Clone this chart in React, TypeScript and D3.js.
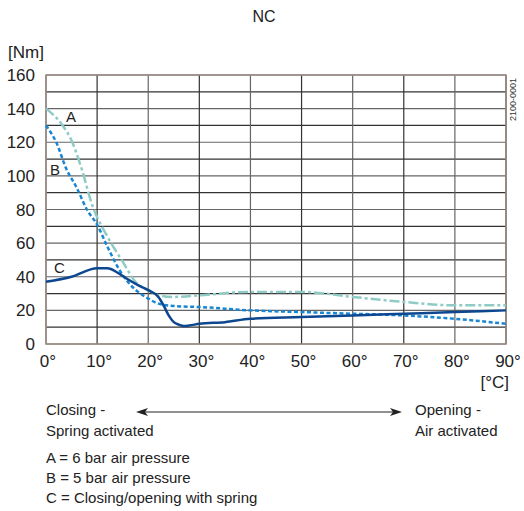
import * as d3 from 'd3';

// x-axis: temperature [°C], y-axis: torque [Nm]
const xTicks = [0, 10, 20, 30, 40, 50, 60, 70, 80, 90];
const yTicks = [0, 20, 40, 60, 80, 100, 120, 140, 160];
const yGrid = d3.range(0, 161, 10);

// A = 6 bar air pressure
const tempA = [0, 3, 5, 7, 9, 12, 15, 17.5, 20, 22, 25, 30, 40, 50, 60, 70, 80, 90];
const torqueA = [140, 131, 121, 104, 83, 64, 49, 37, 32, 29, 28, 29, 31, 31, 28, 25, 23, 23];

// B = 5 bar air pressure
const tempB = [0, 2, 4, 6, 8, 10, 12, 14, 16, 18, 20, 22, 25, 30, 40, 50, 60, 70, 80, 90];
const torqueB = [130, 120, 104, 93, 80, 71, 58, 46, 37, 31, 27, 24, 22.6, 22, 20, 19, 18, 17, 15, 12];

// C = closing/opening with spring
const tempC = [0, 5, 10, 12, 14, 16, 18, 20, 22, 23, 24, 25, 26, 27, 28, 30, 35, 40, 50, 60, 70, 80, 90];
const torqueC = [37, 40, 45, 45, 42.5, 38.5, 35, 32, 28, 23, 17, 13, 11.5, 10.7, 11, 12, 13, 15, 16, 17, 18, 19, 20];

const legendLines = ['A = 6 bar air pressure', 'B = 5 bar air pressure', 'C = Closing/opening with spring'];

const W = 524;
const H = 511;
const margin = { left: 46, right: 18, top: 75, bottom: 167 };
const font = 'Liberation Sans, Arial, sans-serif';

export default function App() {
  const x = d3.scaleLinear().domain([0, 90]).range([margin.left, W - margin.right]);
  const y = d3.scaleLinear().domain([0, 160]).range([H - margin.bottom, margin.top]);

  const mk = (ts: number[], vs: number[]) =>
    d3.line<number>()
      .x((_, i) => x(ts[i]))
      .y((v) => y(v))
      .curve(d3.curveMonotoneX)(vs) ?? '';

  const arrowY = 412;
  const ax0 = 136;
  const ax1 = 402;

  return (
    <svg width={W} height={H} style={{ position: 'absolute', left: 0, top: 0, background: '#fff' }} fontFamily={font}>
      <text x={264} y={22} textAnchor="middle" fontSize={16} fill="#222">NC</text>
      <text x={8} y={58} fontSize={17} fill="#222">[Nm]</text>

      {/* grid */}
      {yGrid.map((v) => (
        <line key={'h' + v} x1={x(0)} x2={x(90)} y1={y(v)} y2={y(v)} stroke={v % 20 === 0 ? '#666' : '#333'} strokeWidth={1.2} />
      ))}
      {xTicks.map((t) => (
        <line key={'v' + t} x1={x(t)} x2={x(t)} y1={y(0)} y2={y(160)} stroke={t % 20 === 0 ? '#666' : '#333'} strokeWidth={1.2} />
      ))}
      <rect x={x(0)} y={y(160)} width={x(90) - x(0)} height={y(0) - y(160)} fill="none" stroke="#9c8c86" strokeWidth={1.5} />

      {/* y ticks */}
      {yTicks.map((v) => (
        <text key={'yt' + v} x={35} y={y(v) + 6} textAnchor="end" fontSize={17} fill="#222">{v}</text>
      ))}
      {/* x ticks */}
      {xTicks.map((t) => (
        <text key={'xt' + t} x={x(t) + 2} y={367} textAnchor="middle" fontSize={17} fill="#222">{t}°</text>
      ))}
      <text x={509} y={388} textAnchor="end" fontSize={17} fill="#222">[°C]</text>

      <text transform={`translate(516,78) rotate(-90)`} textAnchor="end" fontSize={9} fill="#333">2100-0001</text>

      {/* curves */}
      <path d={mk(tempA, torqueA)} fill="none" stroke="#8ecbc5" strokeWidth={2.5} strokeDasharray="10,3,3,3" />
      <path d={mk(tempB, torqueB)} fill="none" stroke="#1787d4" strokeWidth={2.5} strokeDasharray="4,2.5" />
      <path d={mk(tempC, torqueC)} fill="none" stroke="#0c4790" strokeWidth={2.5} />

      <text x={66} y={122} fontSize={15} fill="#222">A</text>
      <text x={50} y={175} fontSize={15} fill="#222">B</text>
      <text x={54} y={273} fontSize={15} fill="#222">C</text>

      {/* bottom annotation */}
      <text x={46} y={415} fontSize={15} fill="#222">Closing -</text>
      <text x={46} y={436} fontSize={15} fill="#222">Spring activated</text>
      <text x={415} y={415} fontSize={15} fill="#222">Opening -</text>
      <text x={415} y={436} fontSize={15} fill="#222">Air activated</text>
      <line x1={ax0 + 8} x2={ax1 - 8} y1={arrowY} y2={arrowY} stroke="#222" strokeWidth={1} />
      <path d={`M${ax0},${arrowY} L${ax0 + 12},${arrowY - 4} L${ax0 + 9},${arrowY} L${ax0 + 12},${arrowY + 4} Z`} fill="#222" />
      <path d={`M${ax1},${arrowY} L${ax1 - 12},${arrowY - 4} L${ax1 - 9},${arrowY} L${ax1 - 12},${arrowY + 4} Z`} fill="#222" />

      {legendLines.map((s, i) => (
        <text key={s} x={46} y={463 + i * 20} fontSize={15} fill="#222">{s}</text>
      ))}
    </svg>
  );
}
